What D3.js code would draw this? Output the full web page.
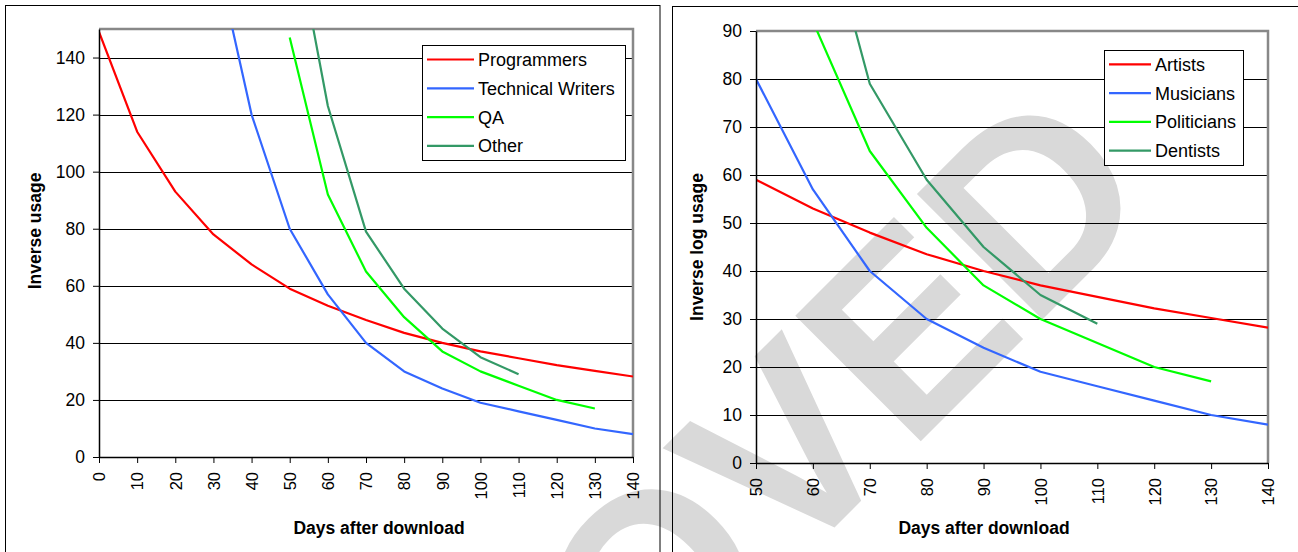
<!DOCTYPE html>
<html>
<head>
<meta charset="utf-8">
<script src="https://cdn.jsdelivr.net/npm/d3@7/dist/d3.min.js"></script>
<style>
    html, body { margin: 0; padding: 0; background: #fff; }
    text { font-family: "Liberation Sans", Arial, sans-serif; fill: #000; }
</style>
</head>
<body>
<svg id="chart" width="1298" height="552"></svg>
<script>
// Days after download (x categories)
const days = [0, 10, 20, 30, 40, 50, 60, 70, 80, 90, 100, 110, 120, 130, 140];

// Series values, aligned with days (null = no point)
const seriesA = [149, 114, 93, 78, 67.5, 59, 53, 48, 43.5, 40, 37, 34.6, 32.2, 30.2, 28.2];
const seriesB = [null, null, null, 180, 120, 80, 57, 40, 30, 24, 19, 16, 13, 10, 8];
const seriesC = [null, null, null, null, null, 147, 92, 65, 49, 37, 30, 25, 20, 17, null];
const seriesD = [null, null, null, null, null, 194, 123, 79, 59, 45, 35, 29, null, null, null];

const leftNames = ['Programmers', 'Technical Writers', 'QA', 'Other'];
const rightNames = ['Artists', 'Musicians', 'Politicians', 'Dentists'];
const colors = ['#ff0000', '#3366ff', '#00ff00', '#339966'];

const leftXTicks = [0, 10, 20, 30, 40, 50, 60, 70, 80, 90, 100, 110, 120, 130, 140];
const leftYTicks = [0, 20, 40, 60, 80, 100, 120, 140];
const rightXTicks = [50, 60, 70, 80, 90, 100, 110, 120, 130, 140];
const rightYTicks = [0, 10, 20, 30, 40, 50, 60, 70, 80, 90];

const svg = d3.select('#chart');

// Watermark behind everything
svg.append('text')
    .attr('transform', 'translate(1162,200) rotate(-45)')
    .attr('text-anchor', 'end')
    .style('font-size', '258px')
    .style('font-weight', 'bold')
    .style('fill', '#d9d9d9')
    .text('APPROVED');

function drawChart(cfg) {
    const g = svg.append('g');

    // outer frame
    g.append('rect')
        .attr('x', cfg.frame[0]).attr('y', cfg.frame[1])
        .attr('width', cfg.frame[2]).attr('height', cfg.frame[3])
        .attr('fill', 'none').attr('stroke', '#000').attr('stroke-width', 1);

    const x = d3.scaleLinear().domain(cfg.xDomain).range([cfg.plot.x0, cfg.plot.x1]);
    const y = d3.scaleLinear().domain(cfg.yDomain).range([cfg.plot.y1, cfg.plot.y0]);
    const crisp = v => Math.round(v) + 0.5;

    // gridlines
    g.append('g')
        .selectAll('line')
        .data(cfg.yTicks.filter(t => t > cfg.yDomain[0] && t < cfg.yDomain[1]))
        .join('line')
        .attr('x1', cfg.plot.x0).attr('x2', cfg.plot.x1)
        .attr('y1', d => crisp(y(d))).attr('y2', d => crisp(y(d)))
        .attr('stroke', '#000').attr('stroke-width', 1);

    // plot area border (top/right gray)
    g.append('path')
        .attr('d', `M${cfg.plot.x0},${y(cfg.yDomain[1])}H${cfg.plot.x1}V${cfg.plot.y1}`)
        .attr('fill', 'none').attr('stroke', '#888').attr('stroke-width', 2.5);

    // series lines
    const clipId = 'clip-' + cfg.id;
    g.append('clipPath').attr('id', clipId)
        .append('rect')
        .attr('x', cfg.plot.x0).attr('y', cfg.plot.y0)
        .attr('width', cfg.plot.x1 - cfg.plot.x0).attr('height', cfg.plot.y1 - cfg.plot.y0);

    const line = d3.line()
        .defined(d => d[1] !== null)
        .x(d => x(d[0]))
        .y(d => y(d[1]));

    const lines = g.append('g').attr('clip-path', `url(#${clipId})`);
    cfg.series.forEach((vals, i) => {
        lines.append('path')
            .datum(days.map((dd, j) => [dd, vals[j]]))
            .attr('d', line)
            .attr('fill', 'none')
            .attr('stroke', colors[i])
            .attr('stroke-width', 2.2)
            .attr('stroke-linejoin', 'round');
    });

    // y axis
    const yAxis = g.append('g')
        .attr('transform', `translate(${cfg.plot.x0},0)`)
        .call(d3.axisLeft(y).tickValues(cfg.yTicks).tickSize(6).tickSizeOuter(0).tickPadding(8));
    yAxis.select('.domain').attr('stroke', '#000').attr('stroke-width', 1.5);
    yAxis.selectAll('.tick line').attr('stroke', '#000').attr('stroke-width', 1);
    yAxis.selectAll('text')
        .attr('font-family', null)
        .attr('fill', null)
        .style('font-size', '17.5px');

    // x axis
    const xAxis = g.append('g')
        .attr('transform', `translate(0,${cfg.plot.y1})`)
        .call(d3.axisBottom(x).tickValues(cfg.xTicks).tickSize(6).tickSizeOuter(0));
    xAxis.select('.domain').attr('stroke', '#000').attr('stroke-width', 1.5);
    xAxis.selectAll('.tick line').attr('stroke', '#000').attr('stroke-width', 1);
    xAxis.selectAll('text')
        .attr('font-family', null)
        .attr('fill', null)
        .attr('y', 0)
        .attr('x', -15)
        .attr('dy', '0.35em')
        .attr('transform', 'rotate(-90)')
        .style('text-anchor', 'end')
        .style('font-size', '16.5px');

    // axis titles
    g.append('text')
        .attr('transform', `translate(${cfg.yTitle[0]},${cfg.yTitle[1]}) rotate(-90)`)
        .attr('text-anchor', 'middle')
        .attr('dy', '0.35em')
        .style('font-size', '17.5px')
        .style('font-weight', 'bold')
        .text(cfg.yLabel);

    g.append('text')
        .attr('x', cfg.xTitle[0]).attr('y', cfg.xTitle[1])
        .attr('text-anchor', 'middle')
        .attr('dy', '0.35em')
        .style('font-size', '17.5px')
        .style('font-weight', 'bold')
        .text('Days after download');

    // legend
    const lg = cfg.legend;
    g.append('rect')
        .attr('x', lg.x).attr('y', lg.y).attr('width', lg.w).attr('height', lg.h)
        .attr('fill', '#fff').attr('stroke', '#000').attr('stroke-width', 1);

    const rows = g.append('g')
        .selectAll('g')
        .data(cfg.names)
        .join('g')
        .attr('transform', (d, i) => `translate(0,${lg.row0 + i * lg.step})`);

    rows.append('line')
        .attr('x1', lg.s0).attr('x2', lg.s1)
        .attr('stroke', (d, i) => colors[i])
        .attr('stroke-width', 2.2);

    rows.append('text')
        .attr('x', lg.tx)
        .attr('dy', '0.36em')
        .style('font-size', '18px')
        .text(d => d);
}

drawChart({
    id: 'left',
    frame: [5.5, 5.5, 654.5, 580],
    plot: { x0: 99, x1: 633, y0: 29, y1: 457 },
    xDomain: [0, 140],
    yDomain: [0, 150],
    xTicks: leftXTicks,
    yTicks: leftYTicks,
    series: [seriesA, seriesB, seriesC, seriesD],
    names: leftNames,
    yLabel: 'Inverse usage',
    yTitle: [35, 231],
    xTitle: [379, 528],
    legend: { x: 422.5, y: 45.5, w: 203, h: 115, row0: 59.5, step: 28.8, s0: 427, s1: 474, tx: 478 }
});

drawChart({
    id: 'right',
    frame: [672.5, 6.5, 700, 580],
    plot: { x0: 756, x1: 1268, y0: 31, y1: 463 },
    xDomain: [50, 140],
    yDomain: [0, 90],
    xTicks: rightXTicks,
    yTicks: rightYTicks,
    series: [seriesA, seriesB, seriesC, seriesD],
    names: rightNames,
    yLabel: 'Inverse log usage',
    yTitle: [697, 247],
    xTitle: [984, 528],
    legend: { x: 1104.5, y: 50.5, w: 139, h: 115, row0: 64.3, step: 28.8, s0: 1109, s1: 1151, tx: 1155 }
});
</script>
</body>
</html>
